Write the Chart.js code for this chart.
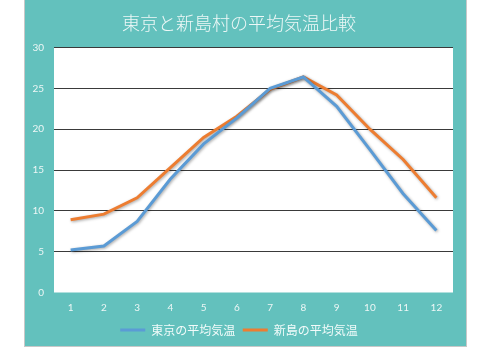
<!DOCTYPE html>
<html>
<head>
<meta charset="utf-8">
<script src="https://cdn.jsdelivr.net/npm/chart.js@4.4.0/dist/chart.umd.min.js"></script>
<style>
  html, body { margin: 0; padding: 0; background: #ffffff; }
  #frame {
    position: absolute; left: 24px; top: 0; width: 441px; height: 346px;
    border-left: 1px solid #c8c8c8; border-right: 1px solid #c8c8c8; border-bottom: 1px solid #c8c8c8;
    background: #63c1bd;
  }
  canvas { display: block; }
</style>
</head>
<body>
<div id="frame"><canvas id="c" width="441" height="346"></canvas></div>
<script>
// 月 (1〜12)
const months = ['1','2','3','4','5','6','7','8','9','10','11','12'];
// 東京の月平均気温 (℃)
const tokyoTemps = [5.2, 5.7, 8.7, 13.9, 18.2, 21.4, 25.0, 26.4, 22.8, 17.5, 12.1, 7.6];
// 新島の月平均気温 (℃)
const niijimaTemps = [8.9, 9.6, 11.6, 15.3, 19.0, 21.6, 24.9, 26.4, 24.2, 20.0, 16.3, 11.6];
// 縦軸の目盛り
const yTicks = [0, 5, 10, 15, 20, 25, 30];

const tickColor = '#eef7f6';
const latin = 'Lato, "Noto Sans CJK JP", sans-serif';
const jp = '"Noto Sans CJK JP", sans-serif';

// プロット領域を白で塗る
const plotBackground = {
  id: 'plotBackground',
  beforeDraw(chart) {
    const a = chart.chartArea, ctx = chart.ctx;
    ctx.save();
    ctx.fillStyle = '#ffffff';
    ctx.fillRect(a.left, a.top, a.right - a.left, a.bottom - a.top);
    ctx.restore();
  }
};

// 折れ線に薄い影を付ける
const lineShadow = {
  id: 'lineShadow',
  beforeDatasetsDraw(chart) {
    const ctx = chart.ctx;
    ctx.save();
    ctx.shadowColor = 'rgba(0,0,0,0.35)';
    ctx.shadowBlur = 3;
    ctx.shadowOffsetX = 1;
    ctx.shadowOffsetY = 1;
  },
  afterDatasetsDraw(chart) {
    chart.ctx.restore();
  }
};

new Chart(document.getElementById('c'), {
  type: 'line',
  data: {
    labels: months,
    datasets: [
      {
        label: '東京の平均気温',
        data: tokyoTemps,
        borderColor: '#5b9bd5',
        backgroundColor: '#5b9bd5',
        borderWidth: 3,
        pointRadius: 0,
        pointStyle: 'line',
        tension: 0
      },
      {
        label: '新島の平均気温',
        data: niijimaTemps,
        borderColor: '#ed7d31',
        backgroundColor: '#ed7d31',
        borderWidth: 3,
        pointRadius: 0,
        pointStyle: 'line',
        tension: 0
      }
    ]
  },
  options: {
    responsive: false,
    animation: false,
    layout: { padding: { left: 0, right: 13, top: 0, bottom: 0 } },
    plugins: {
      title: {
        display: true,
        text: '東京と新島村の平均気温比較',
        color: '#eef8f7',
        font: { family: jp, size: 18, weight: 300 },
        padding: { top: 12, bottom: 14 }
      },
      legend: {
        position: 'bottom',
        labels: {
          usePointStyle: true,
          pointStyleWidth: 25,
          color: '#f2fbfa',
          font: { family: jp, size: 12 },
          padding: 7.5
        }
      },
      tooltip: { enabled: false }
    },
    scales: {
      x: {
        offset: true,
        grid: { display: false, drawTicks: false },
        border: { display: false },
        ticks: { color: tickColor, font: { family: latin, size: 10 }, padding: 9, autoSkip: false, maxRotation: 0 },
        afterFit(scale) { scale.height = 24; }
      },
      y: {
        min: 0,
        max: 30,
        afterBuildTicks(scale) { scale.ticks = yTicks.map(v => ({ value: v })); },
        grid: {
          color: ctx => ctx.tick && ctx.tick.value === 0 ? 'rgba(0,0,0,0)' : '#3a3a3a',
          lineWidth: 1,
          drawTicks: false
        },
        border: { display: false },
        ticks: { color: tickColor, font: { family: latin, size: 10 }, padding: 10 },
        afterFit(scale) { scale.width = 29; }
      }
    }
  },
  plugins: [plotBackground, lineShadow]
});
</script>
</body>
</html>
